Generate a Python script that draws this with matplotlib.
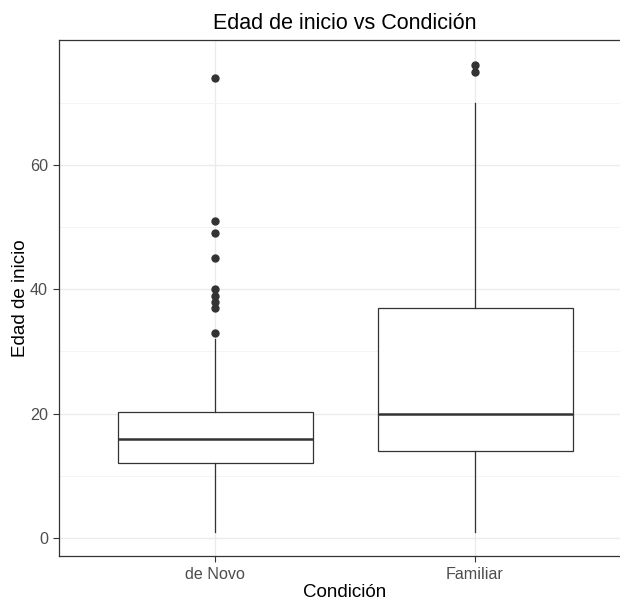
import matplotlib
matplotlib.use("Agg")
import matplotlib.pyplot as plt

plt.rcParams['font.family'] = ['Liberation Sans', 'DejaVu Sans']

categories = ["de Novo", "Familiar"]
q1 = [12, 14]
medians = [16, 20]
q3 = [20.2, 37]
whisker_low = [1, 1]
whisker_high = [32, 70]
outliers = [
    [33, 37, 38, 39, 40, 45, 49, 51, 74],
    [75, 76],
]
y_ticks = [0, 20, 40, 60]
minor_ticks = [10, 30, 50, 70]

W, H = 620, 601
fig = plt.figure(figsize=(W / 100, H / 100), dpi=100)
ax = fig.add_axes([59 / W, (H - 556) / H, (631 - 59) / W, (556 - 40) / H])

stats = []
for i, name in enumerate(categories):
    stats.append(dict(label=name, q1=q1[i], med=medians[i], q3=q3[i],
                      whislo=whisker_low[i], whishi=whisker_high[i],
                      fliers=outliers[i]))

positions = list(range(1, len(categories) + 1))
ax.bxp(stats, positions=positions, widths=0.75, showfliers=True,
       patch_artist=True,
       boxprops=dict(facecolor='white', edgecolor='#333333', linewidth=0.9),
       medianprops=dict(color='#333333', linewidth=1.8),
       whiskerprops=dict(color='#333333', linewidth=0.9),
       capprops=dict(linewidth=0),
       flierprops=dict(marker='o', markersize=5, markerfacecolor='#333333',
                       markeredgecolor='#333333'),
       zorder=3)

ax.set_xlim(0.4, 2.6)
ax.set_ylim(-2.9, 80.1)
ax.set_yticks(y_ticks)
ax.set_yticks(minor_ticks, minor=True)
ax.set_xticks(positions)
ax.set_xticklabels(categories)

ax.grid(True, which='major', color='#EBEBEB', linewidth=1.0, zorder=0)
ax.grid(True, which='minor', axis='y', color='#F2F2F2', linewidth=0.6, zorder=0)
ax.set_axisbelow(True)

for s in ax.spines.values():
    s.set_color('#333333')
    s.set_linewidth(0.9)

ax.tick_params(which='major', length=4, color='#333333', labelsize=11.6,
               labelcolor='#4D4D4D', width=0.8, pad=4)
ax.tick_params(which='minor', length=0)

ax.set_xlabel("Condición", fontsize=13.5, color='black', labelpad=1.5)
ax.set_ylabel("Edad de inicio", fontsize=13.5, color='black', labelpad=0.5)
ax.set_title("Edad de inicio vs Condición", fontsize=15.5, color='black', pad=8)

fig.savefig("out.png", dpi=100)
